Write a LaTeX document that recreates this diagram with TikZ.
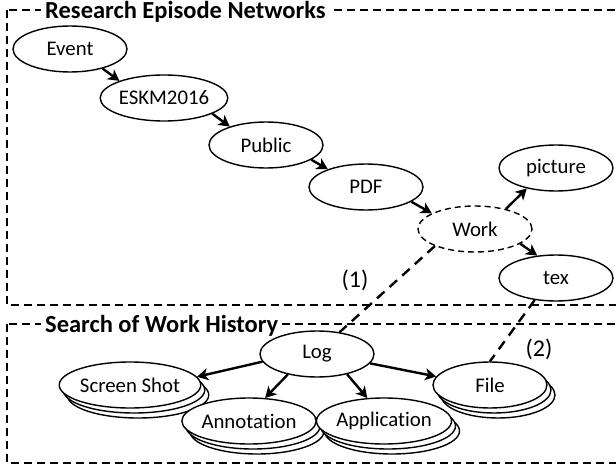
\documentclass[tikz,border=0pt]{standalone}
\usepackage{fontspec}
\setmainfont{Carlito}[Ligatures={NoCommon}]
\usetikzlibrary{arrows.meta,shapes.geometric,shadows}

\begin{document}
\begin{tikzpicture}[x=1pt,y=-1pt,
  every node/.style={font=\fontsize{20.8}{24}\selectfont},
  ent/.style={ellipse, draw, line width=1.4pt, fill=white,
    minimum width=114pt, minimum height=46pt, inner sep=0pt},
  ghost/.style={ent, dash pattern=on 6pt off 4pt},
  stacked/.style={ent, double copy shadow={shadow xshift=4pt, shadow yshift=-5pt}},
  frame/.style={draw, line width=1.4pt, dash pattern=on 8pt off 5pt},
  heading/.style={fill=white, inner xsep=4pt, inner ysep=0pt, anchor=west,
    font=\fontsize{24.5}{28}\selectfont\bfseries},
  link/.style={line width=2.4pt, -{Stealth[length=11pt,width=12pt,inset=3pt]}},
  trace/.style={line width=2.4pt, dash pattern=on 10pt off 7pt},
  tag/.style={font=\fontsize{24}{28}\selectfont}
]
\useasboundingbox (0,0) rectangle (616,471);

% the two regions
\draw[frame] (7,10) rectangle (640,305);
\draw[frame] (7,324) rectangle (640,463);
\node[heading] (hnet) at (41,12) {Research Episode Networks};
\node[heading] (hlog) at (41,326) {Search of Work History};

% episode chain
\node[ent] (event) at (70,49) {Event};
\node[ent] (eskm) at (164,98) {ESKM2016};
\node[ent] (public) at (266,145) {Public};
\node[ent] (pdf) at (366,187) {PDF};
\node[ghost] (work) at (475,229) {Work};
\node[ent] (picture) at (556,168) {picture};
\node[ent] (tex) at (556,278) {tex};

% work history
\node[ent] (log) at (317,354) {Log};
\node[stacked] (shot) at (130,385) {Screen Shot};
\node[stacked] (annot) at (249,421) {Annotation};
\node[stacked] (app) at (384,421) {Application};
\node[stacked] (file) at (490,385) {File};

\draw[link] (event.-31) -- (eskm.159);
\draw[link] (eskm.-18) -- (public.153);
\draw[link] (public.-18) -- (pdf.155);
\draw[link] (pdf.-18) -- (work.160);
\draw[link] (work.33) -- (picture.215);
\draw[link] (work.-18) -- (tex.130);

\draw[link] (log.188) -- (shot.7);
\draw[link] (log.215) -- (annot.55);
\draw[link] (log.-34) -- (app.126);
\draw[link] (log.-10) -- (file.171);

% correspondences between the two regions
\draw[trace] (work.203) -- (log.44);
\draw[trace] (tex.226) -- (file.north);
\node[tag] (l1) at (355,280) {(1)};
\node[tag] (l2) at (539,349) {(2)};
\end{tikzpicture}
\end{document}
